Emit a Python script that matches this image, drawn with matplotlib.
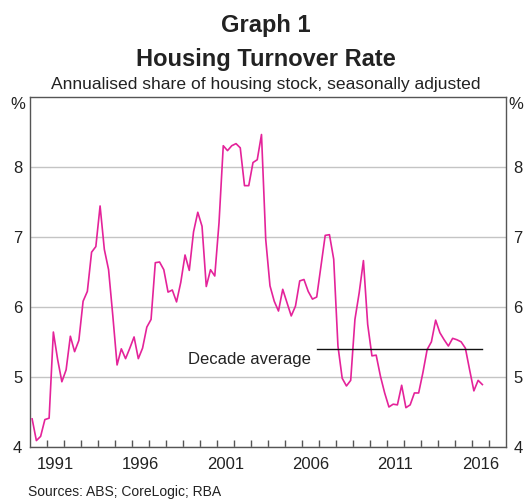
import numpy as np
import pandas as pd
import matplotlib
matplotlib.use("Agg")
import matplotlib.pyplot as plt

plt.rcParams['font.family'] = ['Liberation Sans', 'DejaVu Sans']

# quarterly turnover rate, per cent, 1990Q1 - 2016Q3
turnover = [
    4.40, 4.09, 4.15, 4.39, 4.41, 5.64, 5.25, 4.93, 5.10, 5.58,
    5.36, 5.52, 6.08, 6.22, 6.78, 6.86, 7.44, 6.82, 6.53, 5.87,
    5.17, 5.40, 5.26, 5.41, 5.57, 5.26, 5.41, 5.71, 5.82, 6.63,
    6.64, 6.53, 6.21, 6.24, 6.07, 6.35, 6.74, 6.52, 7.07, 7.35,
    7.15, 6.29, 6.53, 6.44, 7.20, 8.30, 8.23, 8.30, 8.33, 8.27,
    7.73, 7.73, 8.06, 8.10, 8.46, 6.96, 6.30, 6.08, 5.94, 6.25,
    6.06, 5.87, 6.01, 6.37, 6.39, 6.22, 6.11, 6.14, 6.58, 7.02,
    7.03, 6.68, 5.44, 4.98, 4.87, 4.95, 5.82, 6.20, 6.66, 5.75,
    5.30, 5.31, 5.01, 4.77, 4.57, 4.61, 4.60, 4.88, 4.56, 4.60,
    4.77, 4.77, 5.06, 5.39, 5.50, 5.81, 5.63, 5.53, 5.44, 5.55,
    5.53, 5.50, 5.41, 5.10, 4.80, 4.95, 4.89,
]
start_q = '1990Q1'
decade_avg = 5.40
decade_start = '2006Q4'
decade_end = '2016Q3'

year_labels = ['1991', '1996', '2001', '2006', '2011', '2016']
y_ticks = [4, 5, 6, 7, 8]


def qpos(p):
    # centre of the quarter in decimal years
    return p.year + (p.quarter - 0.5) / 4


periods = pd.period_range(start_q, periods=len(turnover), freq='Q')
x = np.array([qpos(p) for p in periods])

fig = plt.figure(figsize=(5.31, 5.00), dpi=100)
ax = fig.add_axes([0.0565, 0.1062, 0.8959, 0.7004])

ax.plot(x, turnover, color='#e4239a', lw=1.2, zorder=3)

d0 = qpos(pd.Period(decade_start, freq='Q'))
d1 = qpos(pd.Period(decade_end, freq='Q'))
ax.plot([d0, d1], [decade_avg, decade_avg], color='#111111', lw=1.0, zorder=4)
ax.annotate('Decade average', xy=(d0, 5.25), xytext=(-4, 0),
            textcoords='offset points', ha='right', va='center',
            fontsize=12, color='#222222')

ax.set_xlim(1990, 2018)
ax.set_ylim(4, 9)

ax.set_xticks([int(s) + 0.5 for s in year_labels])
ax.set_xticklabels(year_labels)
ax.set_xticks(np.arange(1991, 2018), minor=True)
ax.tick_params(axis='x', which='major', length=0, pad=7, labelsize=12,
               labelcolor='#222222')
ax.tick_params(axis='x', which='minor', direction='in', length=5,
               width=1, color='#555555')

ax.set_yticks(y_ticks)
ax.tick_params(axis='y', left=False, right=False, labelleft=True,
               labelright=True, pad=2, labelsize=12, labelcolor='#222222')
ax.yaxis.grid(True, color='#c4c4c4', lw=1)
ax.set_axisbelow(True)

for s in ax.spines.values():
    s.set_color('#555555')
    s.set_linewidth(1)

fig.text(0.5, 0.936, 'Graph 1', ha='center', va='baseline',
         fontsize=17, fontweight='bold', color='#222222')
fig.text(0.5, 0.868, 'Housing Turnover Rate', ha='center', va='baseline',
         fontsize=17, fontweight='bold', color='#222222')
fig.text(0.5, 0.822, 'Annualised share of housing stock, seasonally adjusted',
         ha='center', va='baseline', fontsize=12.6, color='#222222')
fig.text(0.047, 0.782, '%', ha='right', va='baseline', fontsize=12,
         color='#222222')
fig.text(0.958, 0.782, '%', ha='left', va='baseline', fontsize=12,
         color='#222222')
fig.text(0.053, 0.008, 'Sources: ABS; CoreLogic; RBA', ha='left',
         va='baseline', fontsize=10, color='#222222')

fig.savefig('out.png', dpi=100)
